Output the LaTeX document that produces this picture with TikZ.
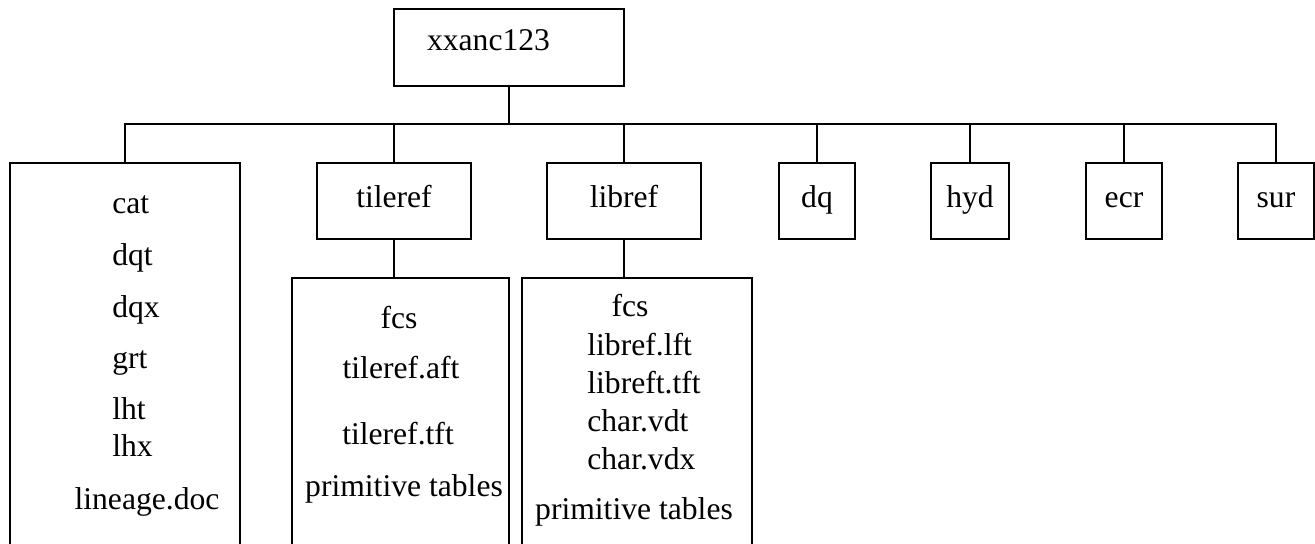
\documentclass[tikz,border=0pt]{standalone}
\usepackage{fontspec}
\setmainfont{Liberation Serif}

\begin{document}
\begin{tikzpicture}[x=0.02cm, y=-0.02cm,
    font=\fontsize{18}{21}\selectfont,
    box/.style={draw, line width=1.1pt, inner sep=0pt,
                text height=0.75em, text depth=0pt},
    lbl/.style={inner sep=0pt, anchor=base},
    lnk/.style={line width=1.1pt},
  ]
  \useasboundingbox (0,0) rectangle (1315,544);

  % ---------- root ----------
  \node[box, minimum width=46mm, minimum height=15.4mm, text depth=0.4em,
        text width=32.8mm, align=left] (root) at (509,47.5) {xxanc123};

  % ---------- directories ----------
  \node[box, minimum width=46mm, minimum height=79.4mm] (cat) at (125,361.5) {};
  \node[box, minimum width=30.8mm, minimum height=15.2mm] (tileref) at (394,201) {tileref};
  \node[box, minimum width=30.8mm, minimum height=15.2mm] (libref) at (624,201) {libref};
  \node[box, minimum width=15.2mm, minimum height=15.2mm] (dq) at (817,201) {dq};
  \node[box, minimum width=15.6mm, minimum height=15.2mm] (hyd) at (970,201) {hyd};
  \node[box, minimum width=15.2mm, minimum height=15.2mm] (ecr) at (1124,201) {ecr};
  \node[box, minimum width=15.2mm, minimum height=15.2mm] (sur) at (1276,201) {sur};

  % ---------- file boxes ----------
  \node[box, minimum width=43.4mm, minimum height=56.4mm] (tilefiles) at (400.5,419) {};
  \node[box, minimum width=46mm, minimum height=56.4mm] (libfiles) at (637,419) {};

  % ---------- tree ----------
  \coordinate (bar) at (509,124);
  \draw[lnk] (root.south) -- (bar);
  \foreach \n in {cat,tileref,libref,dq,hyd,ecr,sur}
    \draw[lnk] (bar) -| (\n.north);
  \draw[lnk] (tileref.south) -- (tileref.south |- tilefiles.north);
  \draw[lnk] (libref.south) -- (libref.south |- libfiles.north);

  % ---------- file names ----------
  \foreach \txt/\y [count=\i] in {cat/213, dqt/265, dqx/317, grt/368, lht/419, lhx/456}
    \node[lbl, anchor=base west] (c\i) at (112,\y) {\txt};
  \node[lbl] (c7) at (147,509) {lineage.doc};

  \foreach \txt/\x/\y [count=\i] in {fcs/399/328, tileref.aft/401/378,
      tileref.tft/398/444, primitive tables/404/496}
    \node[lbl] (t\i) at (\x,\y) {\txt};

  \node[lbl] (l1) at (630,316) {fcs};
  \foreach \txt/\y [count=\i from 2] in {libref.lft/355, libreft.tft/393,
      char.vdt/431, char.vdx/469}
    \node[lbl, anchor=base west] (l\i) at (587,\y) {\txt};
  \node[lbl] (l6) at (634,519) {primitive tables};

\end{tikzpicture}
\end{document}
